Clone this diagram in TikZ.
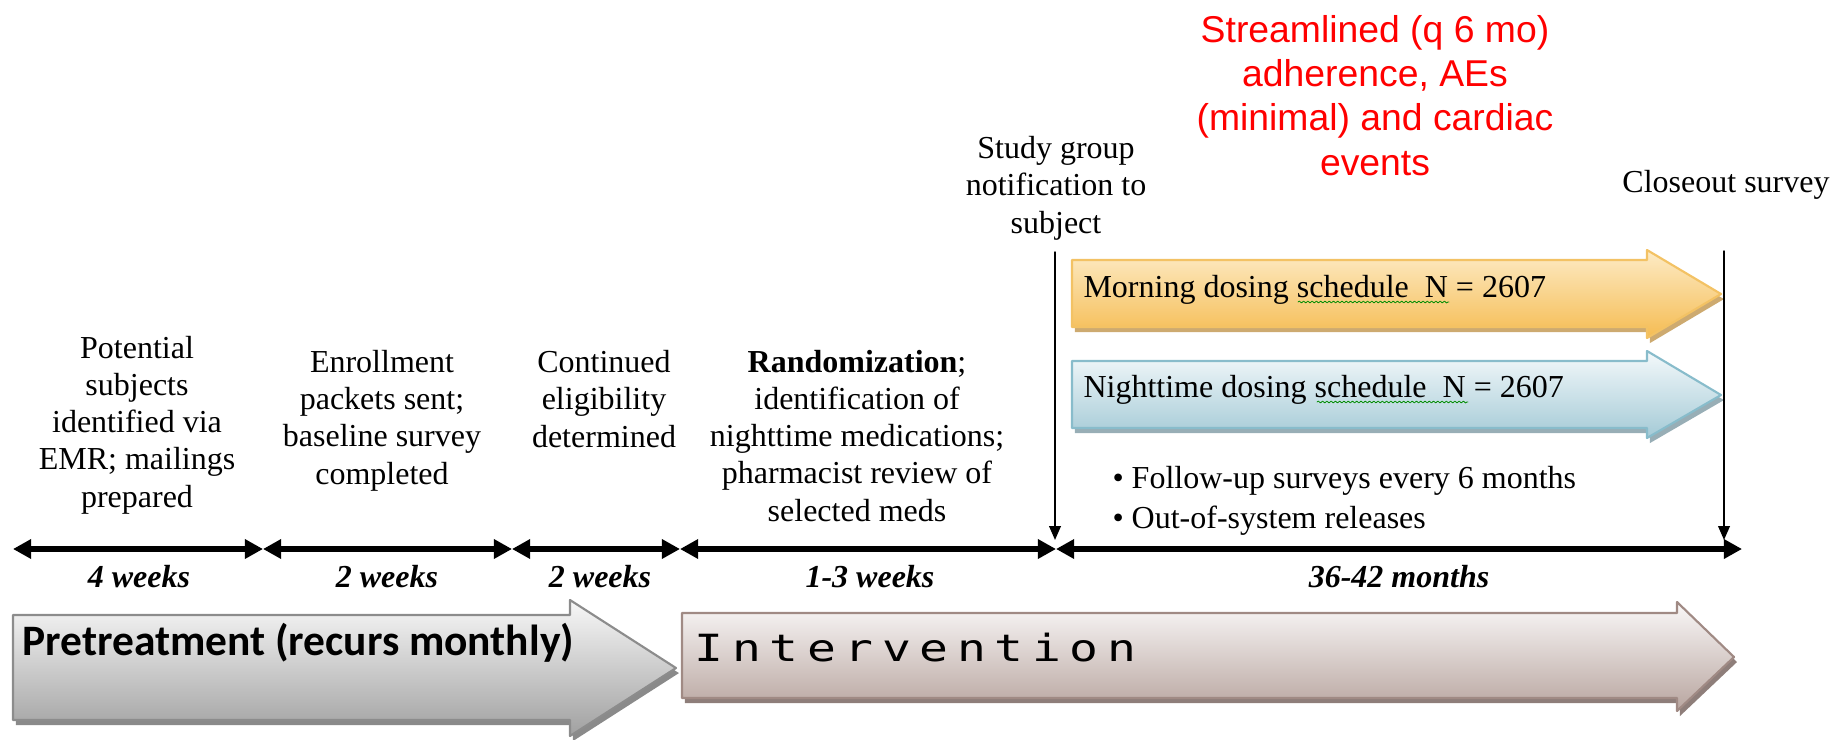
\documentclass[tikz,border=0pt]{standalone}
\usepackage{graphicx}
\usepackage{fontspec}
\setmainfont{Liberation Serif}
\newfontfamily\arialfont{Liberation Sans}
\newfontfamily\calibrifont{Carlito}
\newfontfamily\consolefont[LetterSpace=18]{DejaVu Sans Mono}
\usetikzlibrary{arrows.meta,shadows,decorations.pathmorphing}

\definecolor{morningtop}{HTML}{FDEBC6}
\definecolor{morningbot}{HTML}{F5BC52}
\definecolor{morningline}{HTML}{F3C264}
\definecolor{morningshade}{HTML}{CDAA70}
\definecolor{nighttop}{HTML}{F4F9FB}
\definecolor{nightbot}{HTML}{A4CAD6}
\definecolor{nightline}{HTML}{88BCCB}
\definecolor{nightshade}{HTML}{98AEB6}
\definecolor{pretop}{HTML}{F8F8F8}
\definecolor{prebot}{HTML}{A0A0A0}
\definecolor{preline}{HTML}{8C8C8C}
\definecolor{preshade}{HTML}{8A8A8A}
\definecolor{intertop}{HTML}{FAF8F8}
\definecolor{interbot}{HTML}{B8A59F}
\definecolor{interline}{HTML}{A08A84}
\definecolor{intershade}{HTML}{8E7E7A}

\begin{document}
\begin{tikzpicture}[x=0.375pt,y=-0.375pt,line cap=round,line join=round,
		font=\fontsize{12}{13.9}\selectfont,>={Triangle[length=6.8pt,width=7pt]},
		spanline/.style={<->,line width=2.2pt},
		droparrow/.style={-{Triangle[length=5.2pt,width=4.4pt]},line width=0.55pt,shorten >=3.4pt},
		steptext/.style={align=center,anchor=base,inner sep=0pt},
		spantext/.style={anchor=base,inner sep=0pt,font=\fontsize{12}{13.9}\selectfont\bfseries\itshape},
		blockshadow/.style={drop shadow={shadow xshift=1.1pt,shadow yshift=-1.9pt,fill=#1,opacity=1}},
		squiggle/.style={draw=green!55!black,line width=0.3pt,decorate,decoration={snake,amplitude=0.35pt,segment length=1.6pt}}]
	\useasboundingbox (0,0) rectangle (1834,739);
	
	% phase arrows
	\shade[blockshadow=preshade,top color=pretop,bottom color=prebot,draw=preline,line width=0.8pt]
		(13,615)--(570,615)--(570,600)--(676,668)--(570,736)--(570,720)--(13,720)--cycle;
	\shade[blockshadow=intershade,top color=intertop,bottom color=interbot,draw=interline,line width=0.8pt]
		(682,613)--(1677,613)--(1677,602)--(1734,657)--(1677,711)--(1677,698)--(682,698)--cycle;
	\node[anchor=base west,inner sep=0pt,font=\calibrifont\fontsize{16.3}{19}\selectfont\bfseries] (pretreat) at (22,655) {Pretreatment (recurs monthly)};
	\node[anchor=base west,inner sep=0pt,font=\consolefont\fontsize{18}{20}\selectfont] (interv) at (694,661) {\scalebox{1}[0.78]{Intervention}};
	
	% dosing arms
	\shade[blockshadow=morningshade,top color=morningtop,bottom color=morningbot,draw=morningline,line width=0.8pt]
		(1072,260)--(1647,260)--(1647,250)--(1721,294)--(1647,338)--(1647,327)--(1072,327)--cycle;
	\shade[blockshadow=nightshade,top color=nighttop,bottom color=nightbot,draw=nightline,line width=0.8pt]
		(1072,361)--(1647,361)--(1647,351)--(1721,395)--(1647,438)--(1647,428)--(1072,428)--cycle;
	\node[anchor=base west,inner sep=0pt] (morning) at (1083,297) {Morning dosing schedule\ \ N = 2607};
	\node[anchor=base west,inner sep=0pt] (night) at (1083,397) {Nighttime dosing schedule\ \ N = 2607};
	\draw[squiggle] (1298,302)--(1449,302);
	\draw[squiggle] (1317,402)--(1468,402);
	\node[anchor=base west,inner sep=0pt] (followup) at (1112,488) {\textbullet\ Follow-up surveys every 6 months};
	\node[anchor=base west,inner sep=0pt] (release) at (1112,528) {\textbullet\ Out-of-system releases};
	
	% time line
	\coordinate (t0) at (13,549);
	\coordinate (t1) at (263,549);
	\coordinate (t2) at (512,549);
	\coordinate (t3) at (680,549);
	\coordinate (t4) at (1056,549);
	\coordinate (t5) at (1742,549);
	\foreach \a/\b in {t0/t1,t1/t2,t2/t3,t3/t4,t4/t5}
		\draw[spanline] (\a)--(\b);
	\node[spantext] (w1) at (139,587) {4 weeks};
	\node[spantext] (w2) at (387,587) {2 weeks};
	\node[spantext] (w3) at (600,587) {2 weeks};
	\node[spantext] (w4) at (870,587) {1-3 weeks};
	\node[spantext] (w5) at (1399,587) {36-42 months};
	
	% steps (anchored at the baseline of their last line)
	\node[steptext] (potential) at (137,507) {Potential\\subjects\\identified via\\EMR; mailings\\prepared};
	\node[steptext] (enroll) at (382,484) {Enrollment\\packets sent;\\baseline survey\\completed};
	\node[steptext] (contin) at (604,447) {Continued\\eligibility\\determined};
	\node[steptext] (random) at (857,521) {\textbf{Randomization};\\identification of\\nighttime medications;\\pharmacist review of\\selected meds};
	\node[steptext] (notify) at (1056,233) {Study group\\notification to\\subject};
	\node[steptext] (closeout) at (1726,192) {Closeout survey};
	\node[steptext,text=red,font=\arialfont\fontsize{14}{16.6}\selectfont] (streamlined) at (1375,175) {Streamlined (q 6 mo)\\adherence, AEs\\(minimal) and cardiac\\events};
	
	\coordinate (s1) at (1055,252);
	\coordinate (s2) at (1724,251);
	\draw[droparrow] (s1)--(s1|-t4);
	\draw[droparrow] (s2)--(s2|-t5);
\end{tikzpicture}
\end{document}
